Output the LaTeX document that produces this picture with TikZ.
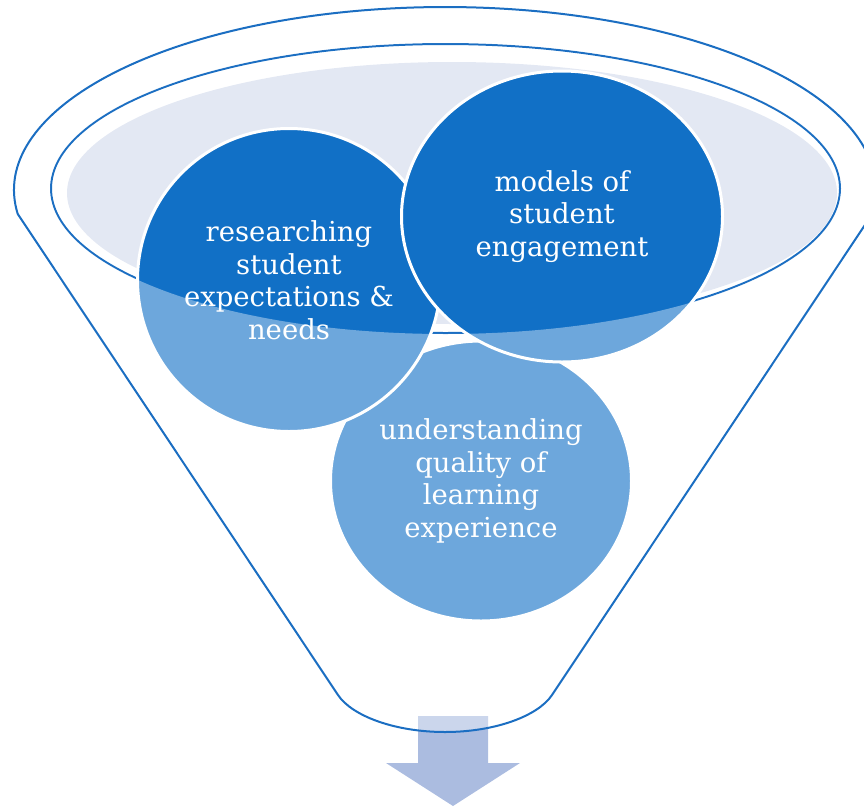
\documentclass[tikz,border=0pt]{standalone}
\usepackage{fontspec}
\setmainfont{DejaVu Serif}
\usetikzlibrary{shapes.geometric}
\definecolor{deepblue}{HTML}{1170C6}
\definecolor{rimblue}{HTML}{1B6EC2}
\definecolor{mouthfill}{HTML}{E3E8F3}
\definecolor{arrowblue}{HTML}{ABBCE0}
\tikzset{
  rim/.style={draw=rimblue, line width=2pt},
  bubble/.style={ellipse, fill=deepblue, draw=white, line width=3pt, inner sep=0pt,
    text=white, align=center, font=\fontsize{27.5}{32.5}\selectfont},
  veil/.style={fill=white, fill opacity=0.39, even odd rule},
  outflow/.style={fill=arrowblue}
}
\begin{document}
\begin{tikzpicture}[x=1pt,y=-1pt]
\useasboundingbox (0,0) rectangle (864,806);

% mouth of the funnel
\fill[mouthfill] (452,193) ellipse [x radius=385, y radius=131];
\draw[rim] (445.5,188.5) ellipse [x radius=394.5, y radius=144.5];

% arrow leaving the spout
\fill[outflow] (418,716) -- (488,716) -- (488,763) -- (520,763) -- (453,806)
  -- (386,763) -- (418,763) -- cycle;

% the three ingredients
\node[bubble, minimum width=301pt, minimum height=280pt] (quality) at (481,481)
  {understanding\\quality of\\learning\\experience};
\node[bubble, minimum width=303pt, minimum height=303pt] (research) at (289,280)
  {researching\\student\\expectations \&\\needs};
\node[bubble, minimum width=321pt, minimum height=291pt] (models) at (562,216.5)
  {models of\\student\\engagement};

% translucent funnel body
\fill[veil] (17.7,213.9) arc [start angle=172.5, end angle=367.5, x radius=431, y radius=183]
  -- (552,695) .. controls (538,716) and (495,732) .. (445,732)
  .. controls (395,732) and (352,716) .. (338,695) -- cycle
  (445.5,188.5) ellipse [x radius=395.5, y radius=145.5];

% funnel outline
\draw[rim, line join=round] (17.7,213.9) arc [start angle=172.5, end angle=367.5, x radius=431, y radius=183]
  -- (552,695) .. controls (538,716) and (495,732) .. (445,732)
  .. controls (395,732) and (352,716) .. (338,695) -- cycle;
\end{tikzpicture}
\end{document}
